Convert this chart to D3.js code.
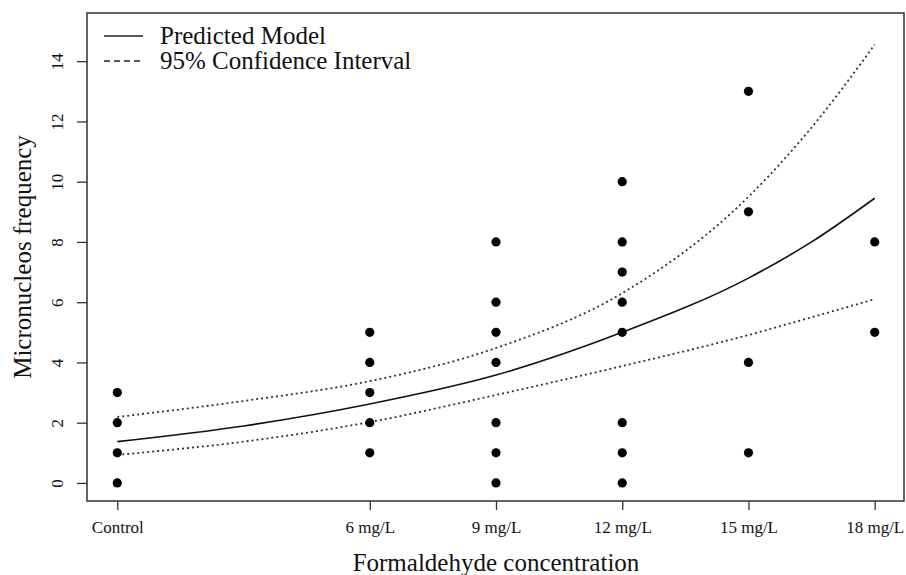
<!DOCTYPE html>
<html>
<meta charset="utf-8">
<style>
  body { margin: 0; background: #fff; }
  svg text { font-family: "Liberation Serif", "Times New Roman", serif; fill: #111; }
  .frame { fill: none; stroke: #333; stroke-width: 1.5; }
  .axis path { display: none; }
  .axis line { stroke: #333; stroke-width: 1.3; }
</style>
<body>
<script src="https://d3js.org/d3.v7.min.js"></script>
<script>
  let width = 906,
    height = 575;

  // x ticks (mg/L, control = 0)
  let doseTicks = [0, 6, 9, 12, 15, 18];
  let doseLabels = ["Control", "6 mg/L", "9 mg/L", "12 mg/L", "15 mg/L", "18 mg/L"];
  let yTicks = [0, 2, 4, 6, 8, 10, 12, 14];

  // observed micronucleus counts by dose
  let obsDose = [0, 0, 0, 0,
    6, 6, 6, 6, 6,
    9, 9, 9, 9, 9, 9, 9,
    12, 12, 12, 12, 12, 12, 12, 12,
    15, 15, 15, 15,
    18, 18];
  let obsCount = [0, 1, 2, 3,
    1, 2, 3, 4, 5,
    0, 1, 2, 4, 5, 6, 8,
    0, 1, 2, 5, 6, 7, 8, 10,
    1, 4, 9, 13,
    5, 8];

  // fitted curve and 95% CI
  let curveDose = [0, 3, 6, 9, 12, 15, 16.5, 18];
  let predicted = [1.37, 1.89, 2.62, 3.58, 5.0, 6.8, 8.0, 9.45];
  let upperCI = [2.19, 2.72, 3.38, 4.48, 6.3, 9.5, 11.8, 14.55];
  let lowerCI = [0.93, 1.37, 2.02, 2.92, 3.88, 4.91, 5.5, 6.1];

  let margin = { left: 87, right: 1, top: 13, bottom: 74 };

  let x = d3.scaleLinear()
    .domain([-0.72, 18.72])
    .range([margin.left, width - margin.right]);
  let y = d3.scaleLinear()
    .domain([-0.6, 15.6])
    .range([height - margin.bottom, margin.top]);

  let svg = d3.select("body").append("svg")
    .attr("width", width)
    .attr("height", height)
    .attr("font-family", "Liberation Serif");

  // box
  svg.append("rect")
    .attr("class", "frame")
    .attr("x", margin.left)
    .attr("y", margin.top)
    .attr("width", width - margin.left - margin.right - 1)
    .attr("height", height - margin.top - margin.bottom);

  // axes
  let xAxis = svg.append("g")
    .attr("class", "axis")
    .attr("transform", `translate(0,${height - margin.bottom})`)
    .call(d3.axisBottom(x).tickValues(doseTicks).tickSize(9).tickPadding(11)
      .tickFormat((d, i) => doseLabels[i]));
  xAxis.attr("font-family", null);
  xAxis.selectAll("text").style("font-size", "17px");

  let yAxis = svg.append("g")
    .attr("class", "axis")
    .attr("transform", `translate(${margin.left},0)`)
    .call(d3.axisLeft(y).tickValues(yTicks).tickSize(10));
  yAxis.attr("font-family", null);
  yAxis.selectAll("text")
    .style("font-size", "17px")
    .attr("text-anchor", "middle")
    .attr("x", 0).attr("dy", 0)
    .attr("transform", "translate(-30,0) rotate(-90)")
    .attr("y", 6);

  // axis titles
  svg.append("text")
    .attr("x", x(9))
    .attr("y", 571)
    .attr("text-anchor", "middle")
    .style("font-size", "25px")
    .text("Formaldehyde concentration");

  svg.append("text")
    .attr("transform", `translate(31,${(margin.top + height - margin.bottom) / 2}) rotate(-90)`)
    .attr("text-anchor", "middle")
    .style("font-size", "25px")
    .text("Micronucleos frequency");

  // curves
  let line = (vals) => d3.line()
    .x((d, i) => x(curveDose[i]))
    .y(d => y(d))
    .curve(d3.curveMonotoneX)(vals);

  svg.append("path")
    .attr("d", line(predicted))
    .attr("fill", "none")
    .attr("stroke", "#111")
    .attr("stroke-width", 1.6);

  [upperCI, lowerCI].forEach(vals => {
    svg.append("path")
      .attr("d", line(vals))
      .attr("fill", "none")
      .attr("stroke", "#333")
      .attr("stroke-width", 1.8)
      .attr("stroke-dasharray", "2,3");
  });

  // points
  svg.selectAll(".pt")
    .data(obsCount)
    .join("circle")
    .attr("class", "pt")
    .attr("cx", (d, i) => x(obsDose[i]))
    .attr("cy", d => y(d))
    .attr("r", 4.6)
    .attr("fill", "#000");

  // legend
  let legend = svg.append("g");
  let legendItems = ["Predicted Model", "95% Confidence Interval"];
  legendItems.forEach((label, i) => {
    let ly = 36 + i * 25;
    legend.append("line")
      .attr("x1", 104).attr("x2", 143)
      .attr("y1", ly).attr("y2", ly)
      .attr("stroke", "#222")
      .attr("stroke-width", 1.5)
      .attr("stroke-dasharray", i === 0 ? null : "6,4");
    legend.append("text")
      .attr("x", 160)
      .attr("y", ly + 8)
      .style("font-size", "25px")
      .text(label);
  });
</script>
</body>
</html>
